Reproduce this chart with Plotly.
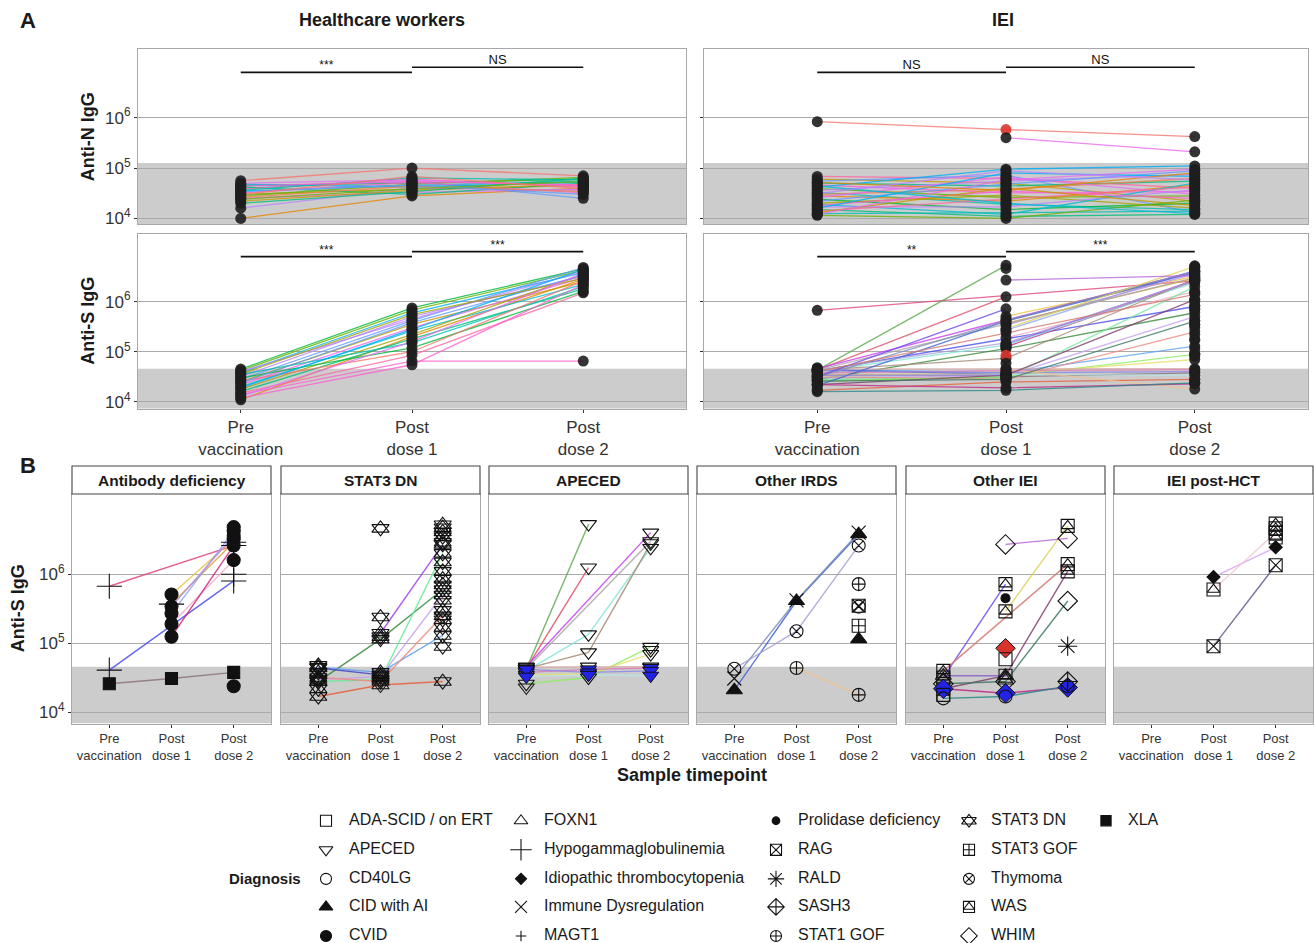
import plotly.graph_objects as go

W = 1314
REF_H = 943      # reference picture height (pixel coordinates below are in this frame)
H = 949          # figure height; the capture comes out ~0.6% squeezed vertically
FONT = "Liberation Sans, Arial, Helvetica, sans-serif"
INK = "#1a1a1a"
TICK = "#333333"
BORDER = "#a8a8a8"
GRID = "#aaaaaa"
BAND = "#cccccc"

# ---------------- shared labels ----------------
timepoint_labels = ["Pre<br>vaccination", "Post<br>dose 1", "Post<br>dose 2"]
ytick_vals = [1e4, 1e5, 1e6]
ytick_text = ["10<sup>4</sup>", "10<sup>5</sup>", "10<sup>6</sup>"]
anti_n_cutoff = 1.26e5
anti_s_cutoff = 4.6e4
sig_bar_y = [7.9e6, 1.0e7]
sig_hcw_n = ["***", "NS"]
sig_iei_n = ["NS", "NS"]
sig_hcw_s = ["***", "***"]
sig_iei_s = ["**", "***"]

# ---------------- Panel A: healthcare workers ----------------
hcw_n_pre = [5.6e4, 1.0e4, 4.5e4, 4.0e4, 3.5e4, 3.0e4, 2.5e4, 4.2e4, 3.8e4, 2.8e4, 3.2e4,
             1.6e4, 2.2e4, 4.8e4, 3.6e4, 2.6e4, 5.0e4, 2.0e4, 3.4e4, 4.4e4, 2.4e4, 3.0e4]
hcw_n_p1 = [1.0e5, 2.8e4, 5.0e4, 5.5e4, 4.5e4, 3.8e4, 3.3e4, 3.0e4, 6.0e4, 4.8e4, 5.2e4,
            4.0e4, 3.6e4, 4.2e4, 6.4e4, 4.4e4, 5.8e4, 3.4e4, 4.6e4, 5.4e4, 3.9e4, 6.8e4]
hcw_n_p2 = [7.0e4, 4.0e4, 6.0e4, 2.5e4, 5.5e4, 4.5e4, 3.8e4, 5.0e4, 4.2e4, 6.5e4, 3.2e4,
            3.6e4, 4.8e4, 5.2e4, 5.8e4, 3.4e4, 4.4e4, 6.2e4, 3.0e4, 4.6e4, 5.4e4, 3.9e4]

hcw_s_pre = [4.5e4, 1.1e4, 4.2e4, 3.8e4, 3.2e4, 2.8e4, 2.5e4, 2.2e4, 2.0e4, 1.8e4, 1.6e4,
             3.5e4, 3.0e4, 1.4e4, 2.6e4, 1.5e4, 1.2e4, 4.0e4, 2.4e4, 1.9e4, 3.6e4, 1.3e4]
hcw_s_p1 = [7.5e5, 2.0e5, 6.8e5, 6.0e5, 5.0e5, 4.2e5, 3.5e5, 3.0e5, 2.6e5, 2.2e5, 1.8e5,
            1.5e5, 1.2e5, 6.5e4, 1.0e5, 8.5e4, 5.5e4, 4.5e5, 3.8e5, 2.8e5, 5.5e5, 1.6e5]
hcw_s_p2 = [4.5e6, 2.8e6, 4.2e6, 3.8e6, 3.2e6, 4.8e6, 2.5e6, 3.0e6, 2.2e6, 3.5e6, 1.8e6,
            2.0e6, 1.6e6, 6.5e4, 2.6e6, 1.5e6, 2.2e6, 4.0e6, 3.4e6, 4.4e6, 2.9e6, 3.7e6]

# ---------------- Panel A: IEI anti-N ----------------
iei_n_pre = [8.3e5, None, 6.8e4, 6.0e4, 5.5e4, 5.0e4, 4.6e4, 4.2e4, 3.9e4, 3.6e4, 3.3e4,
             3.0e4, 2.8e4, 2.6e4, 2.4e4, 2.2e4, 2.0e4, 1.9e4, 1.8e4, 1.7e4, 1.6e4, 1.5e4,
             1.4e4, 1.3e4, 1.25e4, 1.2e4, 1.15e4, 5.2e4, 4.4e4, 3.1e4]
iei_n_p1 = [5.8e5, 4.0e5, 6.2e4, 5.0e4, 7.2e4, 4.4e4, 3.2e4, 9.5e4, 2.6e4, 5.5e4, 1.9e4,
            3.8e4, 2.2e4, 6.6e4, 1.5e4, 4.8e4, 2.9e4, 1.2e4, 3.5e4, 1.7e4, 8.0e4, 1.1e4,
            2.4e4, 4.0e4, 1.3e4, 5.8e4, 1.0e4, 3.6e4, 2.0e4, 8.8e4]
iei_n_p2 = [4.2e5, 2.1e5, 4.0e4, 2.2e4, 1.3e4, 5.5e4, 3.4e4, 1.1e5, 2.8e4, 7.5e4, 1.5e4,
            6.2e4, 4.6e4, 3.0e4, 2.0e4, 8.8e4, 1.6e4, 5.0e4, 2.5e4, 3.7e4, 6.8e4, 1.2e4,
            4.2e4, 1.8e4, 1.4e4, 9.5e4, 2.3e4, 8.0e4, 1.25e4, 5.8e4]
iei_n_red_points = [(0, 1)]

# ---------------- Panel B: anti-S by diagnostic group ----------------
facet_titles = ["Antibody deficiency", "STAT3 DN", "APECED", "Other IRDS", "Other IEI", "IEI post-HCT"]

ab_dx = ["Hypogammaglobulinemia", "Hypogammaglobulinemia", "XLA", "CVID", "Hypogammaglobulinemia",
         "CVID", "CVID", "CVID", "CVID", "CVID", "CVID", "Hypogammaglobulinemia"]
ab_pre = [6.7e5, 4.1e4, 2.6e4, None, None, None, None, None, None, None, None, None]
ab_p1 = [None, None, 3.1e4, 5.1e5, 3.7e5, 2.7e5, 1.9e5, 1.25e5, 3.4e5, None, None, None]
ab_p2 = [2.6e6, 8.0e5, 3.8e4, 3.2e6, 2.9e6, 4.2e6, 1.6e6, 2.6e6, 3.6e6, 2.4e4, 4.8e6, 1.0e6]
ab_fill = ["", "", "", "", "", "", "", "", "", "", "", ""]

s3_dx = ["STAT3 DN"] * 28
s3_pre = [1.7e4, None, 2.8e4, 2.8e4, 3.0e4, 4.5e4, 3.2e4, 4.4e4, 2.2e4, 3.8e4, 4.8e4,
          None, None, None, None, None, None, None, None, None, None, None, None, None,
          None, None, None, None]
s3_p1 = [2.5e4, 1.4e5, 1.15e5, 3.0e4, 3.3e4, 3.8e4, 2.8e4, 3.5e4, None, None, None,
         4.6e6, 2.4e5, 1.25e5, None, None, None, None, None, None, None, None, None, None,
         None, None, None, None]
s3_p2 = [2.8e4, 2.7e6, 6.0e5, 2.0e6, 5.0e5, 1.3e5, 2.5e5, None, None, None, None,
         None, None, None, 5.2e6, 4.7e6, 4.1e6, 3.5e6, 2.9e6, 1.5e6, 1.1e6, 8.5e5, 7.0e5,
         4.2e5, 3.0e5, 2.2e5, 1.7e5, 9.0e4]
s3_fill = [""] * 28

ap_dx = ["APECED"] * 14
ap_pre = [4.3e4, 4.3e4, 4.6e4, 4.3e4, 4.0e4, 4.3e4, 2.6e4, 3.5e4, 3.8e4, 4.2e4, 3.3e4, 4.5e4, 2.3e4, None]
ap_p1 = [5.3e6, 1.25e6, None, None, 1.35e5, 7.4e4, 3.2e4, 3.6e4, 4.2e4, 3.8e4, 3.5e4, 4.6e4, None, None]
ap_p2 = [None, None, 4.0e6, 3.0e6, 2.4e6, 2.8e6, 8.9e4, 7.0e4, 4.4e4, 4.0e4, 3.4e4, 4.6e4, None, 8.0e4]
ap_fill = ["", "", "", "", "", "", "", "", "b", "b", "b", "", "", ""]

oi_dx = ["CID with AI", "Immune Dysregulation", "Thymoma", "STAT1 GOF", "STAT1 GOF", "RAG",
         "Thymoma", "STAT3 GOF", "CID with AI"]
oi_pre = [2.1e4, 3.1e4, 4.3e4, None, None, None, None, None, None]
oi_p1 = [4.1e5, 4.2e5, 1.5e5, 4.4e4, None, None, None, None, None]
oi_p2 = [3.8e6, 4.0e6, 2.6e6, 1.8e4, 7.2e5, 3.5e5, 3.4e5, 1.8e5, 1.15e5]
oi_fill = [""] * 9

oe_dx = ["WAS", "WAS", "WAS", "WHIM", "WAS", "WHIM", "WHIM", "CD40LG", "FOXN1",
         "Prolidase deficiency", "WHIM", "ADA-SCID / on ERT", "RALD", "SASH3",
         "ADA-SCID / on ERT", "FOXN1"]
oe_pre = [3.2e4, None, 4.0e4, None, 2.2e4, 2.6e4, 2.2e4, 1.6e4, 3.4e4, None, None, None, None, None, 1.8e4, None]
oe_p1 = [7.2e5, 2.9e5, None, 2.7e6, 3.4e4, 2.8e4, 1.9e4, 1.7e4, 3.4e4, 4.5e5, 8.5e4, 5.9e4, None, None, None, 2.9e4]
oe_p2 = [None, 5.0e6, 1.4e6, 3.3e6, 1.1e6, 4.1e5, 2.3e4, 2.4e4, None, None, None, None, 9.1e4, 2.8e4, None, None]
oe_fill = ["", "", "", "", "", "", "b", "", "", "", "r", "", "", "", "", ""]

hc_dx = ["Idiopathic thrombocytopenia", "WAS", "RAG", "WAS", "WAS", "WAS"]
hc_pre = [None, None, None, None, None, None]
hc_p1 = [9.1e5, 6.0e5, 9.1e4, None, None, None]
hc_p2 = [2.45e6, 4.0e6, 1.35e6, 5.4e6, 4.6e6, 3.4e6]
hc_fill = [""] * 6

diagnoses = ["ADA-SCID / on ERT", "APECED", "CD40LG", "CID with AI", "CVID",
             "FOXN1", "Hypogammaglobulinemia", "Idiopathic thrombocytopenia", "Immune Dysregulation", "MAGT1",
             "Prolidase deficiency", "RAG", "RALD", "SASH3", "STAT1 GOF",
             "STAT3 DN", "STAT3 GOF", "Thymoma", "WAS", "WHIM",
             "XLA"]

# ---------------- styles ----------------
palette = ["#F8766D", "#E58700", "#C99800", "#A3A500", "#6BB100", "#00BA38", "#00BF7D", "#00C0AF",
           "#00BCD8", "#00B0F6", "#619CFF", "#B983FF", "#E76BF3", "#FD61D1", "#FF67A4", "#EF7F49"]
hcw_n_colors = [palette[0], palette[1], palette[5], palette[10], palette[8], palette[3], palette[12],
                palette[6], palette[14], palette[4], palette[13], palette[11], palette[2], palette[9],
                palette[7], palette[15], palette[12], palette[6], palette[10], palette[13], palette[4], palette[0]]
hcw_s_colors = [palette[5], palette[1], palette[4], palette[9], palette[11], palette[10], palette[2],
                palette[12], palette[8], palette[3], palette[6], palette[7], palette[5], palette[13],
                palette[0], palette[14], palette[13], palette[11], palette[10], palette[9], palette[3], palette[12]]
iei_n_colors = [palette[0], palette[12], palette[14], palette[2], palette[10], palette[6], palette[13],
                palette[9], palette[4], palette[11], palette[7], palette[15], palette[1], palette[12],
                palette[5], palette[10], palette[3], palette[8], palette[13], palette[11], palette[9],
                palette[6], palette[14], palette[2], palette[7], palette[12], palette[4], palette[1],
                palette[8], palette[11]]

ab_line = ["#E0457B", "#4B4BF0", "#8C7378", "#EAC43C", "#D9A62E", "#8FA8F5", "#F0A8C8", "#D0247A",
           "#B98CE8", None, None, None]
s3_line = ["#E8603C", "#A040F0", "#3A8A3A", "#6CEB9A", "#C8A2F0", "#5FA2F2", "#F08A80", "#4646C8"] + [None] * 20
ap_line = ["#5DAA4F", "#E0506A", "#C93CF0", "#A8A8A8", "#7FE5D5", "#A88A76", "#8DF062", "#E8E070",
           "#E27AB8", "#8A8AE8", "#B8E8E8", "#D8A8A8", None, None]
oi_line = ["#3F63D6", "#7F8FB5", "#A9A2D2", "#F2C28E", None, None, None, None, None]
oe_line = ["#7048F0", "#DCD45C", "#D4786E", "#B768D8", "#80406E", "#3E7A64", "#C0288A", "#2A8A8A",
           "#8B63C8", None, None, None, None, None, None, None]
hc_line = ["#D7A3F2", "#F2CAD9", "#5E5E8C", None, None, None]

fill_colors = {"b": "#2323E6", "r": "#D9342B"}

SYM = {
    "ADA-SCID / on ERT": [("square-open", 13)],
    "APECED": [("triangle-down-open", 14)],
    "CD40LG": [("circle-open", 13)],
    "CID with AI": [("triangle-up", 14)],
    "CVID": [("circle", 13)],
    "FOXN1": [("triangle-up-open", 14)],
    "Hypogammaglobulinemia": [("cross-thin-open", 18)],
    "Idiopathic thrombocytopenia": [("diamond", 10)],
    "Immune Dysregulation": [("x-thin-open", 14)],
    "MAGT1": [("cross-thin-open", 9)],
    "Prolidase deficiency": [("circle", 9)],
    "RAG": [("square-x-open", 13)],
    "RALD": [("asterisk-open", 16)],
    "SASH3": [("diamond-cross-open", 15)],
    "STAT1 GOF": [("circle-cross-open", 13)],
    "STAT3 DN": [("triangle-up-open", 15), ("triangle-down-open", 15)],
    "STAT3 GOF": [("square-cross-open", 13)],
    "Thymoma": [("circle-x-open", 13)],
    "WAS": [("square-open", 13), ("triangle-up-open", 11)],
    "WHIM": [("diamond-open", 15)],
    "XLA": [("square", 12)],
}

# ---------------- layout geometry (reference pixels) ----------------
A_X = {"hcw": (138, 686), "iei": (704, 1308)}
A_Y = {"n": (49, 224), "s": (234, 408)}
A_YRANGE = {"n": [3.88, 7.36], "s": [3.86, 7.34]}
B_X = [(72, 271), (281, 480), (489, 688), (697, 896), (906, 1105), (1114, 1313)]
B_Y = (493, 722)
B_STRIP = (465, 493)
B_YRANGE = [3.84, 7.16]

fig = go.Figure()


def px_y(py):
    """paper y for a row of the reference picture"""
    return 1 - py / REF_H


def xd(a, b):
    return [a / W, b / W]


def yd(top, bottom):
    return [px_y(bottom), px_y(top)]


def refs(idx):
    return ("x", "y") if idx == 1 else (f"x{idx}", f"y{idx}")


def set_axes(idx, xpx, ypx, yrange, xlabels, ylabels, xfont, xticks, yticks):
    xs = "xaxis" if idx == 1 else f"xaxis{idx}"
    ys = "yaxis" if idx == 1 else f"yaxis{idx}"
    xr, yr = refs(idx)
    fig.update_layout({
        xs: dict(domain=xd(*xpx), anchor=yr, range=[0.4, 3.6], tickmode="array",
                 tickvals=[1, 2, 3], ticktext=timepoint_labels, showticklabels=xlabels,
                 ticks="outside" if xticks else "", ticklen=3, tickcolor=TICK,
                 showgrid=False, zeroline=False, showline=True, mirror=True,
                 linecolor=BORDER, linewidth=1.2,
                 tickfont=dict(family=FONT, size=xfont, color=TICK)),
        ys: dict(domain=yd(*ypx), anchor=xr, type="log", range=yrange, tickmode="array",
                 tickvals=ytick_vals, ticktext=ytick_text, showticklabels=ylabels,
                 ticks="outside" if yticks else "", ticklen=3, tickcolor=TICK,
                 showgrid=True, gridcolor=GRID, gridwidth=1.3, zeroline=False,
                 showline=True, mirror=True, linecolor=BORDER, linewidth=1.2,
                 tickfont=dict(family=FONT, size=17, color=TICK)),
    })


def add_band(idx, yrange, cutoff):
    xr, yr = refs(idx)
    fig.add_shape(type="rect", xref=f"{xr} domain", yref=yr, x0=0, x1=1,
                  y0=10 ** yrange[0], y1=cutoff, fillcolor=BAND, line_width=0, layer="below")


def pts(vals):
    xs, ys = [], []
    for i, v in enumerate(vals):
        if v is not None:
            xs.append(i + 1)
            ys.append(v)
    return xs, ys


def draw_panel_a(idx, pre, p1, p2, colors, red_points):
    xr, yr = refs(idx)
    rows = list(zip(pre, p1, p2))
    for k, row in enumerate(rows):
        xs, ys = pts(row)
        if colors[k] and len(xs) > 1:
            fig.add_trace(go.Scatter(x=xs, y=ys, mode="lines", xaxis=xr, yaxis=yr,
                                     line=dict(color=colors[k], width=1.3), opacity=0.8,
                                     showlegend=False, hoverinfo="skip"))
    mx, my, mc = [], [], []
    for k, row in enumerate(rows):
        for t, v in enumerate(row):
            if v is not None:
                mx.append(t + 1)
                my.append(v)
                mc.append("#d9342b" if (k, t) in red_points else "#1e1e1e")
    fig.add_trace(go.Scatter(x=mx, y=my, mode="markers", xaxis=xr, yaxis=yr,
                             marker=dict(size=11, color=mc, opacity=0.9, line=dict(width=0)),
                             showlegend=False, hoverinfo="skip"))


def draw_sig(idx, labels):
    xr, yr = refs(idx)
    for j, lab in enumerate(labels):
        yv = sig_bar_y[j]
        fig.add_trace(go.Scatter(x=[j + 1, j + 2], y=[yv, yv], mode="lines", xaxis=xr, yaxis=yr,
                                 line=dict(color="#111111", width=1.7), showlegend=False,
                                 hoverinfo="skip"))
        fig.add_trace(go.Scatter(x=[j + 1.5], y=[yv], mode="text", text=[lab], xaxis=xr, yaxis=yr,
                                 textposition="top center",
                                 textfont=dict(family=FONT, size=13 if lab == "NS" else 12,
                                               color="#111111"),
                                 showlegend=False, hoverinfo="skip"))


def marker_style(part, size, fill, scale=1.0):
    sym = part
    if fill:
        sym = part.replace("-open", "")
        return dict(symbol=sym, size=size * scale, color=fill_colors[fill],
                    line=dict(color="#111111", width=1))
    return dict(symbol=sym, size=size * scale, color="#111111",
                line=dict(color="#111111", width=1.1))


# ---------------- Panel A ----------------
set_axes(1, A_X["hcw"], A_Y["n"], A_YRANGE["n"], False, True, 16, False, True)
set_axes(2, A_X["iei"], A_Y["n"], A_YRANGE["n"], False, False, 16, False, True)
set_axes(3, A_X["hcw"], A_Y["s"], A_YRANGE["s"], True, True, 17, True, True)
set_axes(4, A_X["iei"], A_Y["s"], A_YRANGE["s"], True, False, 17, True, True)
add_band(1, A_YRANGE["n"], anti_n_cutoff)
add_band(2, A_YRANGE["n"], anti_n_cutoff)
add_band(3, A_YRANGE["s"], anti_s_cutoff)
add_band(4, A_YRANGE["s"], anti_s_cutoff)

draw_panel_a(1, hcw_n_pre, hcw_n_p1, hcw_n_p2, hcw_n_colors, [])
draw_panel_a(2, iei_n_pre, iei_n_p1, iei_n_p2, iei_n_colors, iei_n_red_points)
draw_panel_a(3, hcw_s_pre, hcw_s_p1, hcw_s_p2, hcw_s_colors, [])

facets = [
    (ab_dx, ab_pre, ab_p1, ab_p2, ab_fill, ab_line),
    (s3_dx, s3_pre, s3_p1, s3_p2, s3_fill, s3_line),
    (ap_dx, ap_pre, ap_p1, ap_p2, ap_fill, ap_line),
    (oi_dx, oi_pre, oi_p1, oi_p2, oi_fill, oi_line),
    (oe_dx, oe_pre, oe_p1, oe_p2, oe_fill, oe_line),
    (hc_dx, hc_pre, hc_p1, hc_p2, hc_fill, hc_line),
]

# IEI anti-S in panel A: the same patients as panel B (excluding post-HCT)
iei_s_pre, iei_s_p1, iei_s_p2, iei_s_col, iei_s_red = [], [], [], [], []
for dx, pre, p1, p2, fill, line in facets[:5]:
    for k in range(len(dx)):
        n = len(iei_s_pre)
        iei_s_pre.append(pre[k])
        iei_s_p1.append(p1[k])
        iei_s_p2.append(p2[k])
        iei_s_col.append(line[k])
        if fill[k] == "r":
            iei_s_red.extend([(n, 0), (n, 1), (n, 2)])
draw_panel_a(4, iei_s_pre, iei_s_p1, iei_s_p2, iei_s_col, iei_s_red)

draw_sig(1, sig_hcw_n)
draw_sig(2, sig_iei_n)
draw_sig(3, sig_hcw_s)
draw_sig(4, sig_iei_s)

# ---------------- Panel B ----------------
for f, (dx, pre, p1, p2, fill, line) in enumerate(facets):
    idx = 5 + f
    xr, yr = refs(idx)
    set_axes(idx, B_X[f], B_Y, B_YRANGE, True, f == 0, 13, True, f == 0)
    add_band(idx, B_YRANGE, anti_s_cutoff)
    rows = list(zip(pre, p1, p2))
    for k, row in enumerate(rows):
        xs, ys = pts(row)
        if line[k] and len(xs) > 1:
            fig.add_trace(go.Scatter(x=xs, y=ys, mode="lines", xaxis=xr, yaxis=yr,
                                     line=dict(color=line[k], width=1.4), opacity=0.85,
                                     showlegend=False, hoverinfo="skip"))
    groups = {}
    for k, row in enumerate(rows):
        key = (dx[k], fill[k])
        xs, ys = pts(row)
        g = groups.setdefault(key, ([], []))
        g[0].extend(xs)
        g[1].extend(ys)
    for (name, fl), (xs, ys) in groups.items():
        for pi, (part, size) in enumerate(SYM[name]):
            fig.add_trace(go.Scatter(x=xs, y=ys, mode="markers", xaxis=xr, yaxis=yr,
                                     marker=marker_style(part, size, fl if pi == 0 else ""),
                                     showlegend=False, hoverinfo="skip"))
    # strip
    fig.add_shape(type="rect", xref="paper", yref="paper",
                  x0=B_X[f][0] / W, x1=B_X[f][1] / W,
                  y0=px_y(B_STRIP[1]), y1=px_y(B_STRIP[0]),
                  fillcolor="white", line=dict(color="#444444", width=1.1))
    fig.add_annotation(xref="paper", yref="paper", x=(B_X[f][0] + B_X[f][1]) / 2 / W,
                       y=px_y((B_STRIP[0] + B_STRIP[1]) / 2), text=f"<b>{facet_titles[f]}</b>",
                       xanchor="center", yanchor="middle",
                       showarrow=False, font=dict(family=FONT, size=15.5, color=INK))

# ---------------- legend (drawn in a helper axis, units = reference pixels) ----------------
LEG_TOP = 790
fig.update_layout(
    xaxis11=dict(domain=[0, 1], anchor="y11", range=[0, W], visible=False, fixedrange=True),
    yaxis11=dict(domain=[0, px_y(LEG_TOP)], anchor="x11", range=[REF_H, LEG_TOP], visible=False,
                 fixedrange=True),
)
leg_sym_x = [326, 521, 776, 969, 1106]
leg_text_x = [349, 544, 798, 991, 1128]
leg_row_y = [819, 848, 877, 905, 934]
for i, name in enumerate(diagnoses):
    col, row = i // 5, i % 5
    for part, size in SYM[name]:
        fig.add_trace(go.Scatter(x=[leg_sym_x[col]], y=[leg_row_y[row]], mode="markers",
                                 xaxis="x11", yaxis="y11",
                                 marker=marker_style(part, size, "", scale=0.85),
                                 showlegend=False, hoverinfo="skip"))
    fig.add_trace(go.Scatter(x=[leg_text_x[col]], y=[leg_row_y[row]], mode="text", text=[name],
                             textposition="middle right", xaxis="x11", yaxis="y11",
                             textfont=dict(family=FONT, size=16, color=INK),
                             showlegend=False, hoverinfo="skip"))

# ---------------- titles & labels ----------------
def ann(x, y, text, size, angle=0, xanchor="center"):
    fig.add_annotation(xref="paper", yref="paper", x=x / W, y=px_y(y), text=text,
                       showarrow=False, textangle=angle, xanchor=xanchor, yanchor="middle",
                       font=dict(family=FONT, size=size, color=INK))

ann(28, 20, "<b>A</b>", 22)
ann(28, 465, "<b>B</b>", 22)
ann(382, 20, "<b>Healthcare workers</b>", 18)
ann(1003, 20, "<b>IEI</b>", 18)
ann(88, 137, "<b>Anti-N IgG</b>", 18, angle=-90)
ann(88, 320, "<b>Anti-S IgG</b>", 18, angle=-90)
ann(18, 607, "<b>Anti-S IgG</b>", 18, angle=-90)
ann(692, 773, "<b>Sample timepoint</b>", 18)
ann(303, 877, "<b>Diagnosis</b>", 15, xanchor="right")

fig.update_layout(width=W, height=H, margin=dict(l=0, r=0, t=0, b=0),
                  paper_bgcolor="white", plot_bgcolor="white", showlegend=False,
                  font=dict(family=FONT, color=INK))

page_fix = ("document.documentElement.style.overflow='hidden';"
            "document.body.style.margin='0px';"
            "document.body.style.overflow='hidden';")
fig.write_html("out.html", config={"displayModeBar": False}, post_script=page_fix)
